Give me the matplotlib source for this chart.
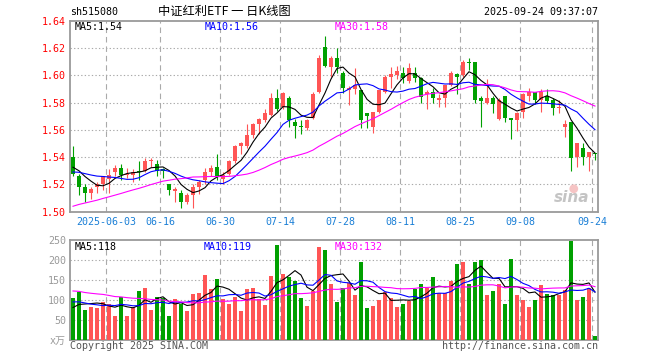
import matplotlib
matplotlib.use("Agg")
import matplotlib.pyplot as plt
import numpy as np

# ---------------- data ----------------
opens = [1.540, 1.526, 1.518, 1.514, 1.518, 1.520, 1.524, 1.529, 1.532, 1.527,
         1.527, 1.530, 1.530, 1.537, 1.535, 1.531, 1.520, 1.515, 1.514, 1.507,
         1.512, 1.518, 1.523, 1.529, 1.533, 1.524, 1.528, 1.537, 1.548, 1.548,
         1.556, 1.564, 1.567, 1.571, 1.583, 1.577, 1.583, 1.566, 1.563, 1.561,
         1.569, 1.588, 1.621, 1.606, 1.613, 1.602, 1.589, 1.590, 1.589, 1.572,
         1.562, 1.573, 1.588, 1.599, 1.600, 1.602, 1.596, 1.602, 1.598, 1.586,
         1.588, 1.582, 1.583, 1.593, 1.601, 1.600, 1.610, 1.610, 1.583, 1.580,
         1.583, 1.568, 1.585, 1.569, 1.567, 1.573, 1.585, 1.588, 1.582, 1.585,
         1.582, 1.576, 1.562, 1.566, 1.540, 1.547, 1.540, 1.543]
highs = [1.548, 1.528, 1.520, 1.518, 1.522, 1.526, 1.531, 1.534, 1.535, 1.532,
         1.531, 1.537, 1.539, 1.539, 1.538, 1.532, 1.520, 1.518, 1.516, 1.514,
         1.520, 1.523, 1.532, 1.534, 1.542, 1.529, 1.538, 1.549, 1.551, 1.564,
         1.565, 1.569, 1.575, 1.587, 1.590, 1.588, 1.585, 1.568, 1.567, 1.568,
         1.588, 1.615, 1.629, 1.614, 1.620, 1.603, 1.592, 1.605, 1.589, 1.572,
         1.573, 1.589, 1.600, 1.606, 1.607, 1.606, 1.609, 1.606, 1.599, 1.589,
         1.591, 1.586, 1.593, 1.603, 1.602, 1.611, 1.613, 1.610, 1.585, 1.597,
         1.585, 1.583, 1.585, 1.569, 1.573, 1.587, 1.591, 1.588, 1.590, 1.590,
         1.583, 1.582, 1.567, 1.566, 1.550, 1.550, 1.544, 1.543]
lows = [1.526, 1.512, 1.507, 1.509, 1.514, 1.516, 1.514, 1.526, 1.523, 1.525,
        1.522, 1.523, 1.529, 1.533, 1.526, 1.525, 1.512, 1.507, 1.503, 1.506,
        1.503, 1.513, 1.520, 1.526, 1.523, 1.520, 1.527, 1.536, 1.542, 1.547,
        1.554, 1.557, 1.566, 1.570, 1.574, 1.575, 1.562, 1.554, 1.557, 1.560,
        1.568, 1.587, 1.606, 1.599, 1.602, 1.587, 1.578, 1.586, 1.561, 1.561,
        1.558, 1.572, 1.587, 1.591, 1.597, 1.594, 1.594, 1.595, 1.580, 1.575,
        1.580, 1.577, 1.577, 1.592, 1.586, 1.599, 1.604, 1.580, 1.562, 1.579,
        1.572, 1.567, 1.566, 1.553, 1.559, 1.569, 1.581, 1.579, 1.573, 1.580,
        1.571, 1.572, 1.555, 1.530, 1.533, 1.534, 1.530, 1.538]
closes = [1.528, 1.518, 1.514, 1.517, 1.520, 1.526, 1.527, 1.532, 1.527, 1.528,
          1.529, 1.529, 1.537, 1.538, 1.530, 1.530, 1.516, 1.517, 1.507, 1.512,
          1.518, 1.522, 1.529, 1.532, 1.526, 1.527, 1.537, 1.548, 1.550, 1.556,
          1.564, 1.568, 1.572, 1.583, 1.575, 1.587, 1.567, 1.563, 1.562, 1.567,
          1.586, 1.613, 1.607, 1.613, 1.606, 1.591, 1.591, 1.593, 1.567, 1.570,
          1.573, 1.589, 1.599, 1.601, 1.603, 1.598, 1.605, 1.598, 1.584, 1.588,
          1.583, 1.583, 1.593, 1.602, 1.599, 1.610, 1.609, 1.582, 1.581, 1.583,
          1.579, 1.582, 1.569, 1.567, 1.572, 1.586, 1.588, 1.582, 1.588, 1.581,
          1.576, 1.577, 1.564, 1.539, 1.550, 1.540, 1.544, 1.542]
volumes = [106, 120, 76, 83, 81, 97, 92, 61, 108, 61,
           84, 123, 131, 76, 108, 106, 61, 103, 92, 73,
           116, 118, 163, 128, 153, 103, 91, 108, 73, 128,
           131, 103, 88, 161, 238, 166, 158, 148, 106, 86,
           123, 233, 226, 141, 97, 132, 143, 114, 197, 82,
           87, 102, 122, 106, 84, 91, 98, 128, 142, 130,
           159, 118, 118, 149, 191, 197, 141, 197, 201, 113,
           123, 140, 91, 203, 113, 102, 84, 102, 138, 117,
           113, 114, 125, 249, 102, 109, 132, 10]

# sessions before the visible window (estimated back from the MA lines' start values)
pre_closes = [1.478, 1.483, 1.486, 1.489, 1.487, 1.492, 1.495, 1.490, 1.488, 1.491,
              1.494, 1.497, 1.495, 1.493, 1.492, 1.496, 1.494, 1.495, 1.496, 1.498,
              1.520, 1.524, 1.527, 1.528, 1.529, 1.531, 1.535, 1.534, 1.535]
pre_volumes = [150, 162, 140, 128, 135, 170, 145, 132, 118, 125,
               140, 155, 130, 122, 138, 145, 128, 120, 132, 125,
               118, 105, 112, 98, 117, 82, 70, 78, 74]

tick_idx = [6, 15, 25, 35, 45, 55, 65, 75, 87]
tick_labels = ['2025-06-03', '06-16', '06-30', '07-14', '07-28',
               '08-11', '08-25', '09-08', '09-24']
price_ticks = [1.50, 1.52, 1.54, 1.56, 1.58, 1.60, 1.62, 1.64]
price_tick_labels = ['1.50', '1.52', '1.54', '1.56', '1.58', '1.60', '1.62', '1.64']
vol_ticks = [0, 50, 100, 150, 200, 250]
vol_tick_labels = ['x万', '50', '100', '150', '200', '250']

price_legend = ['MA5:1.54', 'MA10:1.56', 'MA30:1.58']
vol_legend = ['MA5:118', 'MA10:119', 'MA30:132']

# ---------------- style ----------------
RED = '#ff5555'
GREEN = '#00a000'
GRID = '#aaaaaa'
FRAME = '#9a9a9a'
MONO = 'DejaVu Sans Mono'
FS = 7.2
MA_COLORS = ['#000000', '#0000ff', '#ff00ff']
GRID_OFF = -0.42  # date grid lines sit at the left edge of a candle slot

W, H = 660, 360
fig = plt.figure(figsize=(W / 100, H / 100), dpi=100)
fig.patch.set_facecolor('white')


def fx(px):
    return px / W


def fy(py):
    return 1 - py / H


L, R = 70, 597.5
ax = fig.add_axes([fx(L), fy(211.7), (R - L) / W, (211.7 - 20.7) / H])
axv = fig.add_axes([fx(L), fy(340.3), (R - L) / W, 100 / H])


def moving_average(pre, vals, n):
    s = np.array(list(pre) + list(vals), dtype=float)
    out = np.convolve(s, np.ones(n) / n, mode='valid')
    return out[-len(vals):]


o = np.array(opens)
h = np.array(highs)
l = np.array(lows)
c = np.array(closes)
v = np.array(volumes, dtype=float)
x = np.arange(len(c))
up = c >= o
cols = np.where(up, RED, GREEN)

# ---------------- price panel ----------------
for yv in price_ticks[1:-1]:
    ax.axhline(yv, color=GRID, lw=0.8, ls=(0, (1.2, 2.0)), zorder=1)
for t in tick_idx:
    ax.axvline(t + GRID_OFF, color=GRID, lw=0.8, ls=(0, (5, 3.5)), zorder=1)

ax.vlines(x, l, h, colors=cols, lw=0.8, zorder=3)
body_bottom = np.minimum(o, c)
body_h = np.maximum(np.abs(c - o), 0.0008)
ax.bar(x, body_h, bottom=body_bottom, width=0.82, color=cols, linewidth=0, zorder=4)

for n, col in zip([5, 10, 30], MA_COLORS):
    ax.plot(x, moving_average(pre_closes, closes, n), color=col, lw=0.8, zorder=5)

ax.set_xlim(-0.5, 87.42)
ax.set_ylim(1.50, 1.64)
ax.set_yticks(price_ticks)
ax.set_yticklabels(price_tick_labels, color='#ff0000', fontfamily=MONO, fontsize=FS)
ax.set_xticks([t + GRID_OFF for t in tick_idx])
ax.set_xticklabels(tick_labels, color='#1a7fd6', fontfamily=MONO, fontsize=FS)
ax.tick_params(axis='both', length=0)
ax.tick_params(axis='y', pad=3)
ax.tick_params(axis='x', pad=4)
for sp in ax.spines.values():
    sp.set_color(FRAME)
    sp.set_linewidth(1.3)

# sina watermark
ax.text(0.985, 0.035, 'sina', transform=ax.transAxes, ha='right', va='bottom',
        fontsize=11, fontweight='bold', style='italic', color='#c4c4c4', zorder=2)
ax.scatter([0.955], [0.12], s=40, transform=ax.transAxes, color='#f6c4c4',
           edgecolors='none', zorder=2)

# ---------------- volume panel ----------------
for yv in vol_ticks[1:-1]:
    axv.axhline(yv, color=GRID, lw=0.8, ls=(0, (1.2, 2.0)), zorder=1)
for t in tick_idx:
    axv.axvline(t + GRID_OFF, color=GRID, lw=0.8, ls=(0, (5, 3.5)), zorder=1)

axv.bar(x, v, width=0.82, color=cols, linewidth=0, zorder=3)
for n, col in zip([5, 10, 30], MA_COLORS):
    axv.plot(x, moving_average(pre_volumes, volumes, n), color=col, lw=0.8, zorder=5)

axv.set_xlim(-0.5, 87.42)
axv.set_ylim(0, 250)
axv.set_xticks([])
axv.set_yticks(vol_ticks)
axv.set_yticklabels(vol_tick_labels, color='#999999', fontsize=FS)
for lab in axv.get_yticklabels():
    lab.set_fontfamily([MONO, 'Noto Sans CJK SC'])
axv.tick_params(axis='y', length=0, pad=3)
for sp in axv.spines.values():
    sp.set_color(FRAME)
    sp.set_linewidth(1.3)

# ---------------- texts ----------------
fig.text(fx(70), fy(12), 'sh515080', fontfamily=MONO, fontsize=FS, va='center', ha='left')
fig.text(fx(224), fy(12), '中证红利ETF 一 日K线图', fontfamily=['Noto Sans CJK SC', 'DejaVu Sans'],
         fontsize=8.8, va='center', ha='center')
fig.text(fx(598), fy(12), '2025-09-24 09:37:07', fontfamily=MONO, fontsize=FS,
         va='center', ha='right')

for txt, col, px in zip(price_legend, MA_COLORS, [75, 205, 335]):
    fig.text(fx(px), fy(27), txt, color=col, fontfamily=MONO, fontsize=FS, va='center', ha='left')
for txt, col, px in zip(vol_legend, MA_COLORS, [75, 204, 335]):
    fig.text(fx(px), fy(246.5), txt, color=col, fontfamily=MONO, fontsize=FS, va='center', ha='left')

fig.text(fx(70), fy(346), 'Copyright 2025 SINA.COM', color='#555555', fontfamily=MONO,
         fontsize=FS, va='center', ha='left')
fig.text(fx(598), fy(346), 'http://finance.sina.com.cn', color='#555555', fontfamily=MONO,
         fontsize=FS, va='center', ha='right')

fig.savefig('out.png', dpi=100, facecolor='white')
